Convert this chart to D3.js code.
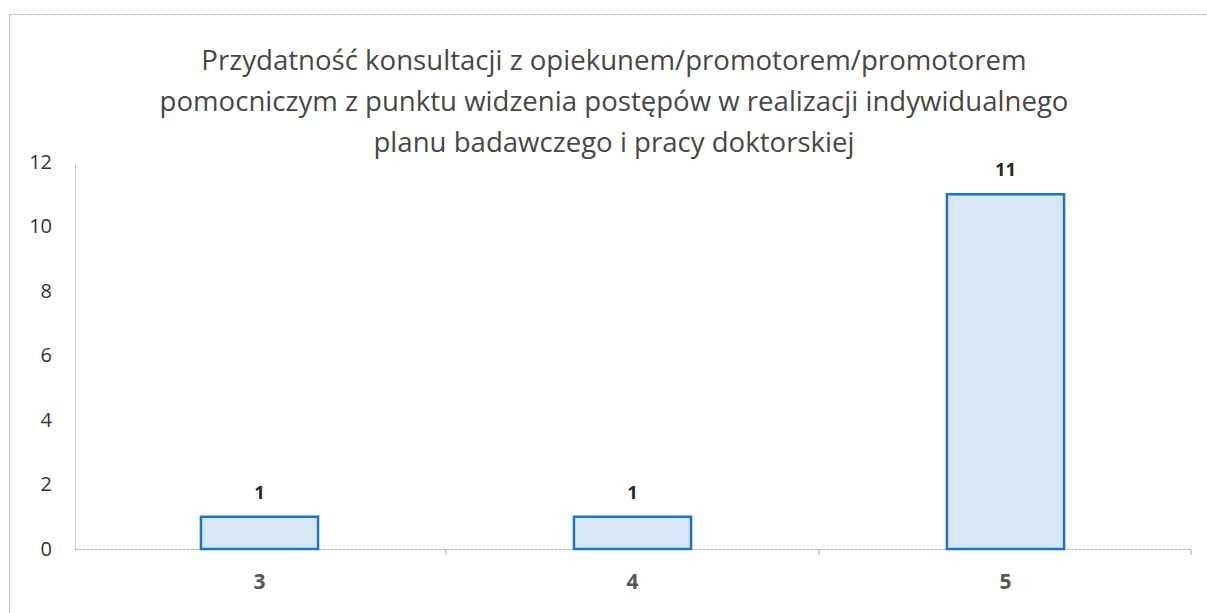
<!DOCTYPE html>
<html><head><meta charset="utf-8">
<script src="https://cdn.jsdelivr.net/npm/d3@7"></script>
<style>body{margin:0;background:#fff}svg{display:block}</style>
</head><body>
<svg id="c" width="1207" height="613"></svg>
<script>
const titleLines = [
  "Przydatność konsultacji z opiekunem/promotorem/promotorem",
  "pomocniczym z punktu widzenia postępów w realizacji indywidualnego",
  "planu badawczego i pracy doktorskiej"
];
const categories = ["3", "4", "5"];
const values = [1, 1, 11];
const yTicks = [0, 2, 4, 6, 8, 10, 12];

const svg = d3.select("#c");
const font = "'Open Sans', sans-serif";

// outer frame
svg.append("line").attr("x1", 10).attr("x2", 1207).attr("y1", 14.5).attr("y2", 14.5)
  .attr("stroke", "#b8b8c8").attr("stroke-width", 1).attr("stroke-dasharray", "3,1");
svg.append("line").attr("x1", 9.5).attr("x2", 9.5).attr("y1", 14).attr("y2", 613)
  .attr("stroke", "#b8b8c8").attr("stroke-width", 1).attr("stroke-dasharray", "3,1");

const x = d3.scaleBand().domain(categories).range([73, 1192]).paddingInner(0.686).paddingOuter(0.343);
const y = d3.scaleLinear().domain([0, 12]).range([549, 162]);

// title
svg.append("g").selectAll("text").data(titleLines).join("text")
  .attr("x", 614).attr("y", (d, i) => 70 + i * 41)
  .attr("text-anchor", "middle")
  .attr("font-family", font).attr("font-size", 27.6)
  .attr("fill", "#474747").text(d => d);

// y axis
const yAxis = svg.append("g").attr("transform", "translate(75,0)")
  .call(d3.axisLeft(y).tickValues(yTicks).tickSize(0).tickPadding(23).tickFormat(d3.format("d")));
yAxis.select(".domain").attr("stroke", "#b0b0c0").attr("stroke-dasharray", "2,1");
yAxis.selectAll("text").attr("font-family", font).attr("font-size", 20).attr("fill", "#333");

// x axis
const xAxis = svg.append("g").attr("transform", `translate(0,${y(0)})`)
  .call(d3.axisBottom(x).tickSize(0).tickPadding(25));
xAxis.select(".domain").attr("stroke", "#b0b0c0").attr("stroke-dasharray", "3,1").attr("d", "M75,0.5H1191");
xAxis.selectAll("text").attr("font-family", font).attr("font-size", 21).attr("font-weight", "bold").attr("fill", "#555");
// boundary tick marks between categories
const bounds = categories.slice(1).map(c => x(c) - x.step() * x.paddingInner() / 2).concat([x.range()[1] - 1]);
svg.append("g").selectAll("line").data(bounds).join("line")
  .attr("x1", d => d).attr("x2", d => d).attr("y1", y(0)).attr("y2", y(0) + 6)
  .attr("stroke", "#aaa").attr("stroke-width", 1);

// bars
svg.append("g").selectAll("rect").data(values).join("rect")
  .attr("x", (d, i) => x(categories[i]))
  .attr("y", d => y(d))
  .attr("width", x.bandwidth())
  .attr("height", d => y(0) - y(d))
  .attr("fill", "#d6e8f7")
  .attr("stroke", "#1b74c6").attr("stroke-width", 2.5);

// value labels
svg.append("g").selectAll("text").data(values).join("text")
  .attr("x", (d, i) => x(categories[i]) + x.bandwidth() / 2)
  .attr("y", d => y(d) - 18)
  .attr("text-anchor", "middle")
  .attr("font-family", font).attr("font-size", 18.5).attr("font-weight", "bold")
  .attr("fill", "#262626").text(d => d);
</script>
</body></html>
